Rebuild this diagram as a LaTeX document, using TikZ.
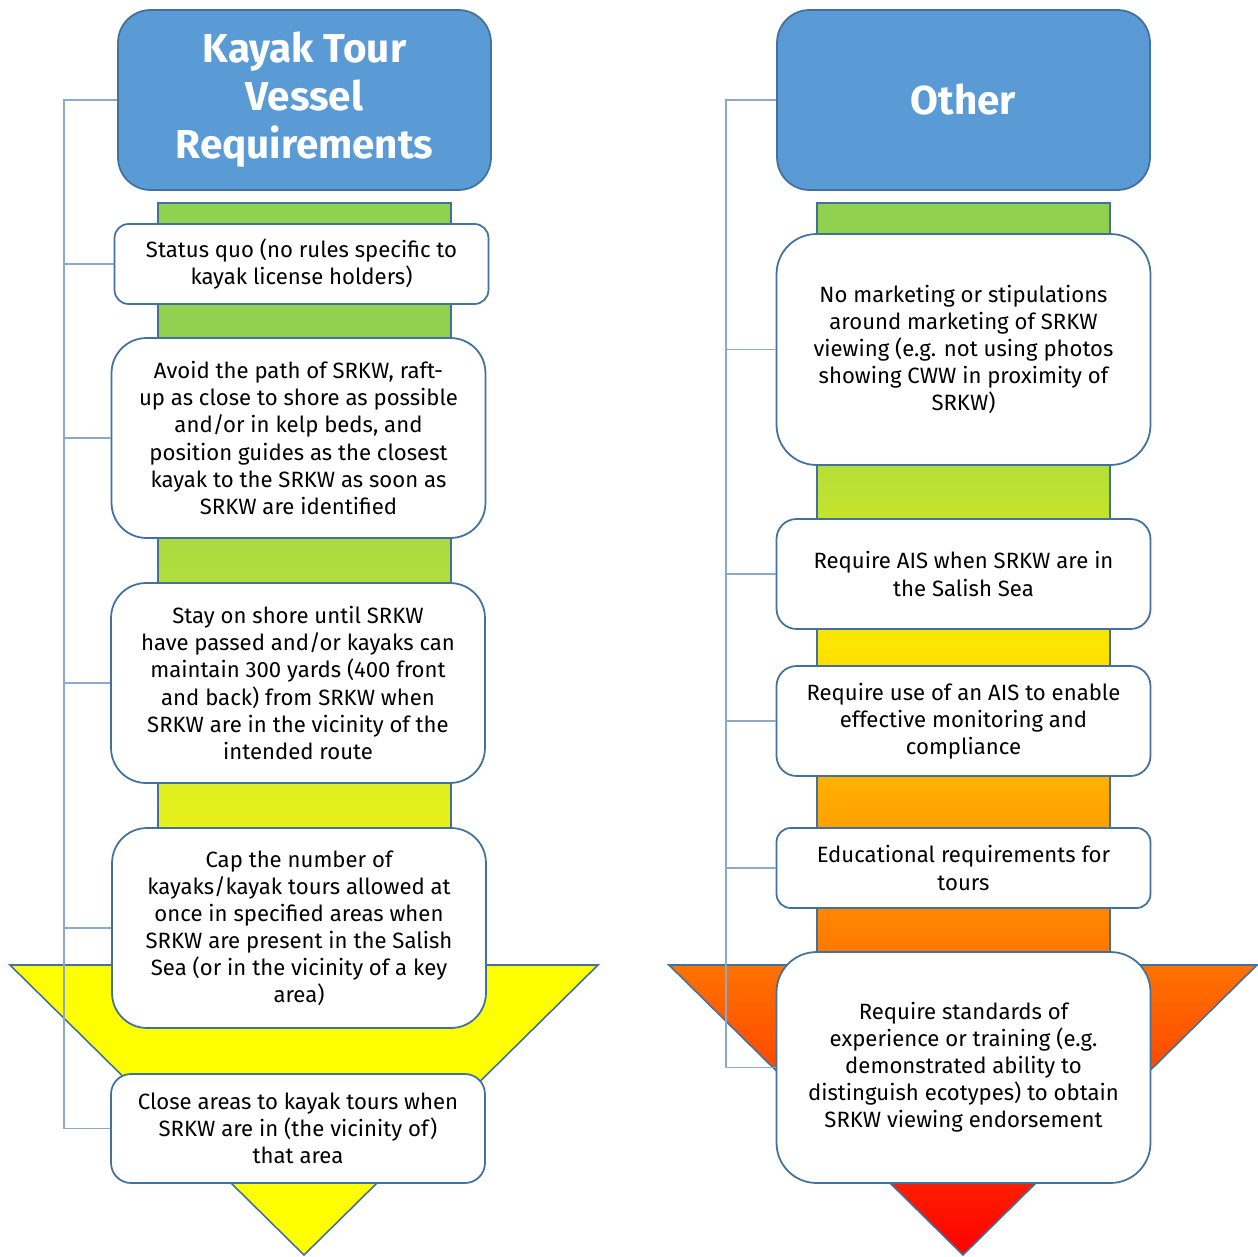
\documentclass[tikz,border=0pt]{standalone}
\usepackage{fontspec}
\setmainfont{Fira Sans}
\definecolor{boxblue}{HTML}{41719C}
\definecolor{headblue}{HTML}{5B9BD5}
\definecolor{linkblue}{HTML}{8EA9C8}
\definecolor{arrgreen}{HTML}{92D050}
\definecolor{limegreen}{HTML}{ACDC3E}
\definecolor{paleyellow}{HTML}{E4F01C}
\definecolor{pureyellow}{HTML}{FFFF00}
\definecolor{greenyellow}{HTML}{BDE232}
\definecolor{goldyellow}{HTML}{FFE500}
\definecolor{lightorange}{HTML}{FFA800}
\definecolor{deeporange}{HTML}{FF8000}
\definecolor{purered}{HTML}{FF0000}

\begin{document}
\begin{tikzpicture}[x=0.02cm, y=-0.02cm]
    \tikzstyle{Head Box} = [draw=boxblue, line width=1pt, fill=headblue, rounded corners=0.65cm, minimum width=7.46cm, minimum height=3.6cm, text=white, align=center, font=\fontsize{23}{27.3}\selectfont\bfseries]
    \tikzstyle{Item Box} = [draw=boxblue, line width=1pt, fill=white, rounded corners=#1, minimum width=7.48cm, inner sep=0pt, align=center, font=\fontsize{12.6}{15.4}\selectfont]
    \tikzstyle{Arrow Edge} = [draw=boxblue, line width=0.9pt]
    \tikzstyle{Bracket} = [draw=linkblue, line width=0.7pt]
    \useasboundingbox (0,0) rectangle (1258,1257);

    \begin{scope}
        \clip (158,203) -- (451,203) -- (451,965) -- (598,965) -- (304,1255) -- (10,965) -- (158,965) -- cycle;
        \fill[arrgreen] (0,203) rectangle (620,331);
        \shade[top color=arrgreen, bottom color=limegreen] (0,330) rectangle (620,561);
        \shade[top color=limegreen, bottom color=paleyellow] (0,560) rectangle (620,806);
        \shade[top color=paleyellow, bottom color=pureyellow] (0,805) rectangle (620,966);
        \fill[pureyellow] (0,965) rectangle (620,1257);
    \end{scope}
    \draw[Arrow Edge] (158,203) -- (451,203) -- (451,965) -- (598,965) -- (304,1255) -- (10,965) -- (158,965) -- cycle;

    \begin{scope}
        \clip (817,203) -- (1110,203) -- (1110,965) -- (1257,965) -- (963,1255) -- (669,965) -- (817,965) -- cycle;
        \fill[arrgreen] (660,203) rectangle (1258,331);
        \shade[top color=arrgreen, bottom color=greenyellow] (660,330) rectangle (1258,496);
        \shade[top color=greenyellow, bottom color=goldyellow] (660,495) rectangle (1258,648);
        \shade[top color=goldyellow, bottom color=lightorange] (660,647) rectangle (1258,803);
        \shade[top color=lightorange, bottom color=deeporange] (660,802) rectangle (1258,931);
        \shade[top color=deeporange, bottom color=purered] (660,930) rectangle (1258,1257);
    \end{scope}
    \draw[Arrow Edge] (817,203) -- (1110,203) -- (1110,965) -- (1257,965) -- (963,1255) -- (669,965) -- (817,965) -- cycle;

    \node[Head Box] (kayak) at (304.5,100) {Kayak Tour\\Vessel\\Requirements};
    \node[Item Box=0.28cm, minimum height=1.6cm] (k1) at (301.5,264) {Status quo (no rules specific to\\kayak license holders)};
    \node[Item Box=0.7cm, minimum height=4cm] (k2) at (298.5,438) {Avoid the path of SRKW, raft-\\up as close to shore as possible\\and/or in kelp beds, and\\position guides as the closest\\kayak to the SRKW as soon as\\SRKW are identified};
    \node[Item Box=0.7cm, minimum height=4cm] (k3) at (298,683) {Stay on shore until SRKW\\have passed and/or kayaks can\\maintain 300 yards (400 front\\and back) from SRKW when\\SRKW are in the vicinity of the\\intended route};
    \node[Item Box=0.7cm, minimum height=4cm] (k4) at (299,928) {Cap the number of\\kayaks/kayak tours allowed at\\once in specified areas when\\SRKW are present in the Salish\\Sea (or in the vicinity of a key\\area)};
    \node[Item Box=0.4cm, minimum height=2.18cm] (k5) at (298,1128.5) {Close areas to kayak tours when\\SRKW are in (the vicinity of)\\that area};

    \node[Head Box] (other) at (963.5,100) {Other};
    \node[Item Box=0.8cm, minimum height=4.62cm] (o1) at (963.5,349.5) {No marketing or stipulations\\around marketing of SRKW\\viewing (e.g. not using photos\\showing CWW in proximity of\\SRKW)};
    \node[Item Box=0.4cm, minimum height=2.2cm] (o2) at (963.5,574) {Require AIS when SRKW are in\\the Salish Sea};
    \node[Item Box=0.4cm, minimum height=2.2cm] (o3) at (963.5,721) {Require use of an AIS to enable\\effective monitoring and\\compliance};
    \node[Item Box=0.28cm, minimum height=1.6cm] (o4) at (963.5,868) {Educational requirements for\\tours};
    \node[Item Box=0.8cm, minimum height=4.62cm] (o5) at (963.5,1067.5) {Require standards of\\experience or training (e.g.\\demonstrated ability to\\distinguish ecotypes) to obtain\\SRKW viewing endorsement};

    \coordinate (kbar) at (64,100);
    \draw[Bracket] (kayak.west) -- (kbar) |- (k5.west);
    \foreach \n in {k1,k2,k3,k4}
        \draw[Bracket] (kbar |- \n.west) -- (\n.west);
    \coordinate (obar) at (726,100);
    \draw[Bracket] (other.west) -- (obar) |- (o5.west);
    \foreach \n in {o1,o2,o3,o4}
        \draw[Bracket] (obar |- \n.west) -- (\n.west);
\end{tikzpicture}
\end{document}
